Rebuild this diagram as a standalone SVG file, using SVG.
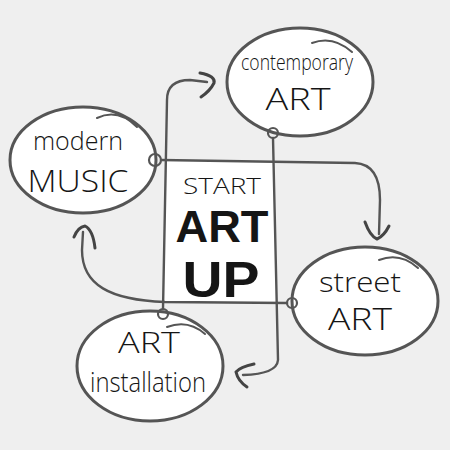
<svg xmlns="http://www.w3.org/2000/svg" width="450" height="450" viewBox="0 0 450 450">
<defs>
<style>
.bg{fill:#efefef}
.node{fill:#fff;stroke:#555;stroke-width:3}
.over{fill:none;stroke:#555;stroke-width:2;stroke-linecap:round}
.conn{fill:none;stroke:#555;stroke-width:2.4;stroke-linecap:round;stroke-linejoin:round}
.arr{fill:none;stroke:#444;stroke-width:3;stroke-linecap:round;stroke-linejoin:round}
.dot{fill:none;stroke:#555;stroke-width:2.2}
.t{font-family:"Open Sans","Liberation Sans",sans-serif;font-weight:300;fill:#151515;text-anchor:middle}
.b{font-family:"Liberation Sans",sans-serif;font-weight:bold}
</style>
</defs>
<rect class="bg" x="0" y="0" width="450" height="450"/>
<g id="center">
<polygon points="167,160 275,162 277,303 163,303" fill="#fff"/>
<text class="t" x="222" y="194" font-size="22" textLength="78" lengthAdjust="spacingAndGlyphs">START</text>
<text class="t b" x="222" y="242" font-size="45" textLength="93" lengthAdjust="spacingAndGlyphs">ART</text>
<text class="t b" x="221" y="297" font-size="50" textLength="77" lengthAdjust="spacingAndGlyphs">UP</text>
</g>
<g id="connectors">
<path class="conn" d="M163,309 L167,100 Q167,80 190,80 L207,82"/>
<path class="arr" d="M200,73 Q216,76 214,83 Q210,91 201,97"/>
<path class="conn" d="M161,160 L355,163 C374,164 380,180 380,200 L379,234"/>
<path class="arr" d="M365,222 Q370,236 377,239 Q384,236 389,226"/>
<path class="conn" d="M273,138 L278,360 Q277,374 243,375"/>
<path class="arr" d="M254,364 Q240,367 236,372 Q238,381 247,387"/>
<path class="conn" d="M287,303 L165,302 C110,300 82,285 82,250 L83,232"/>
<path class="arr" d="M74,237 Q78,227 85,226 Q93,230 95,248"/>
</g>
<g id="modern-music">
<ellipse class="node" cx="83" cy="160" rx="73" ry="53"/>
<path class="over" d="M97,118 Q118,108 137,127"/>
<circle class="dot" cx="155" cy="160" r="6"/>
<text class="t" x="78" y="150" font-size="26" textLength="90" lengthAdjust="spacingAndGlyphs">modern</text>
<text class="t" x="78" y="192" font-size="32" textLength="101" lengthAdjust="spacingAndGlyphs">MUSIC</text>
</g>
<g id="contemporary-art">
<ellipse class="node" cx="300" cy="82" rx="73" ry="54"/>
<path class="over" d="M312,43 Q333,35 352,52"/>
<circle class="dot" cx="273" cy="133" r="5"/>
<text class="t" x="297" y="70" font-size="22" textLength="112" lengthAdjust="spacingAndGlyphs">contemporary</text>
<text class="t" x="298" y="110" font-size="32" textLength="65" lengthAdjust="spacingAndGlyphs">ART</text>
</g>
<g id="street-art">
<ellipse class="node" cx="365" cy="301" rx="73" ry="54"/>
<path class="over" d="M379,260 Q400,252 418,268"/>
<circle class="dot" cx="292" cy="303" r="5"/>
<text class="t" x="360" y="292" font-size="28" textLength="82" lengthAdjust="spacingAndGlyphs">street</text>
<text class="t" x="360" y="330" font-size="32" textLength="64" lengthAdjust="spacingAndGlyphs">ART</text>
</g>
<g id="art-installation">
<ellipse class="node" cx="150" cy="366" rx="73" ry="55"/>
<path class="over" d="M167,327 Q188,319 205,334"/>
<circle class="dot" cx="163" cy="314" r="5"/>
<text class="t" x="149" y="353" font-size="30" textLength="62" lengthAdjust="spacingAndGlyphs">ART</text>
<text class="t" x="148" y="392" font-size="28" textLength="116" lengthAdjust="spacingAndGlyphs">installation</text>
</g>
</svg>
